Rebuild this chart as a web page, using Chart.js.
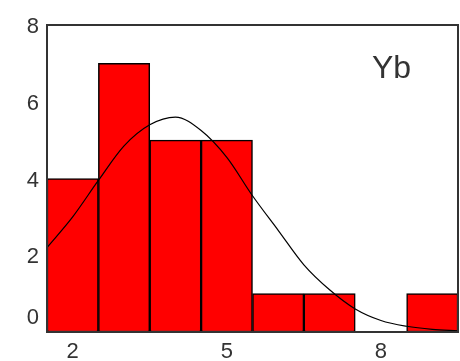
<!DOCTYPE html>
<html>
<head>
<meta charset="utf-8">
<script src="https://cdn.jsdelivr.net/npm/chart.js@4/dist/chart.umd.min.js"></script>
<style>
  html, body { margin: 0; padding: 0; background: #fff; }
  #wrap { width: 460px; height: 361px; }
</style>
</head>
<body>
<div id="wrap"><canvas id="hist"></canvas></div>
<script>
// histogram of Yb: bin centres and counts
const binCenters = [2, 3, 4, 5, 6, 7, 8, 9]
const counts = [4, 7, 5, 5, 1, 1, 0, 1]

// fitted curve, read at half-unit steps
const curveX = [1.5, 2, 2.5, 3, 3.5, 4, 4.5, 5, 5.5, 6, 6.5, 7, 7.5, 8, 8.5, 9, 9.5]
const curveY = [2.2, 3.0, 3.95, 4.85, 5.4, 5.6, 5.25, 4.55, 3.55, 2.65, 1.75, 1.1, 0.6, 0.3, 0.15, 0.07, 0.03]

const xTicks = [2, 5, 8]
const yTicks = [0, 2, 4, 6, 8]
const label = 'Yb'

const font = '"Liberation Sans", Arial, sans-serif'

const framePlugin = {
	id: 'frame',
	afterDatasetsDraw(chart) {
		const { ctx, chartArea: a } = chart
		ctx.save()
		ctx.strokeStyle = '#333'
		ctx.lineWidth = 2
		ctx.strokeRect(a.left, a.top, a.right - a.left, a.bottom - a.top)
		ctx.restore()
	},
	afterDraw(chart) {
		const { ctx, chartArea: a } = chart
		const y = chart.scales.y
		ctx.save()
		ctx.fillStyle = '#333'
		ctx.font = '22px ' + font
		ctx.textAlign = 'right'
		ctx.textBaseline = 'middle'
		yTicks.forEach(v => {
			// keep the bottom label clear of the x axis
			const py = Math.min(y.getPixelForValue(v) + 2, a.bottom - 14)
			ctx.fillText(String(v), a.left - 8, py)
		})
		ctx.font = '32px ' + font
		ctx.textAlign = 'left'
		ctx.fillText(label, a.left + 325, a.top + 44)
		ctx.restore()
	}
}

new Chart(document.getElementById('hist'), {
	data: {
		datasets: [
			{
				type: 'line',
				data: curveX.map((x, i) => ({ x, y: curveY[i] })),
				borderColor: '#000',
				borderWidth: 1.2,
				pointRadius: 0,
				cubicInterpolationMode: 'monotone',
				order: 0
			},
			{
				type: 'bar',
				data: binCenters.map((x, i) => ({ x, y: counts[i] })),
				backgroundColor: '#ff0000',
				borderColor: '#000',
				borderWidth: 1.5,
				borderSkipped: false,
				barPercentage: 1,
				categoryPercentage: 1,
				order: 1
			}
		]
	},
	options: {
		responsive: true,
		maintainAspectRatio: false,
		animation: false,
		layout: { padding: { top: 25, right: 2, left: 0, bottom: 0 } },
		plugins: { legend: { display: false }, tooltip: { enabled: false } },
		scales: {
			x: {
				type: 'linear',
				offset: false,
				min: 1.5,
				max: 9.5,
				afterBuildTicks: s => { s.ticks = xTicks.map(v => ({ value: v })) },
				afterFit: s => { s.height = 29 },
				grid: { display: false, drawTicks: false },
				border: { display: false },
				ticks: { color: '#333', font: { family: font, size: 22 }, padding: 7, maxRotation: 0 }
			},
			y: {
				min: 0,
				max: 8,
				afterFit: s => { s.width = 47 },
				grid: { display: false, drawTicks: false },
				border: { display: false },
				ticks: { display: false, stepSize: 2 }
			}
		}
	},
	plugins: [framePlugin]
})
</script>
</body>
</html>
